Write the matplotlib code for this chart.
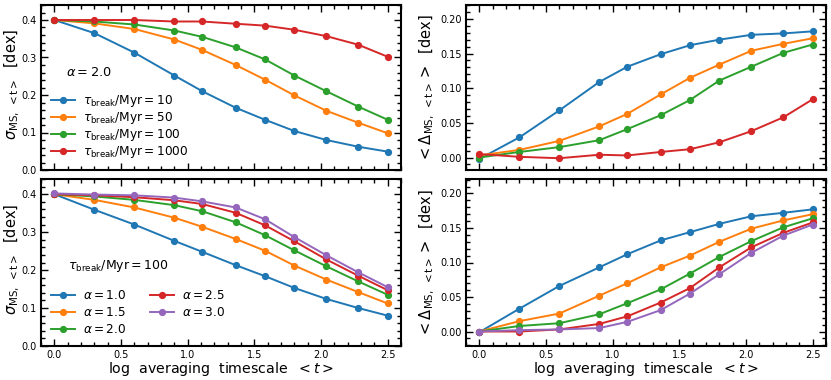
import numpy as np
import matplotlib
matplotlib.use('Agg')
import matplotlib.pyplot as plt
from matplotlib.ticker import MultipleLocator

# log averaging timescale grid
log_t = [0.0, 0.30, 0.60, 0.90, 1.11, 1.36, 1.58, 1.80, 2.04, 2.28, 2.50]

# top row: alpha = 2.0, different tau_break
tau_labels = ['10', '50', '100', '1000']
sigma_tau = [
    [0.400, 0.365, 0.313, 0.252, 0.210, 0.166, 0.134, 0.104, 0.080, 0.062, 0.049],
    [0.400, 0.391, 0.376, 0.348, 0.320, 0.280, 0.241, 0.199, 0.158, 0.126, 0.098],
    [0.400, 0.396, 0.388, 0.372, 0.355, 0.327, 0.295, 0.252, 0.210, 0.169, 0.134],
    [0.400, 0.400, 0.400, 0.396, 0.396, 0.390, 0.385, 0.374, 0.357, 0.334, 0.302],
]
delta_tau = [
    [-0.002, 0.029, 0.068, 0.109, 0.131, 0.149, 0.162, 0.170, 0.177, 0.179, 0.182],
    [0.003, 0.011, 0.024, 0.045, 0.063, 0.091, 0.115, 0.134, 0.154, 0.164, 0.172],
    [0.000, 0.008, 0.015, 0.025, 0.041, 0.061, 0.083, 0.111, 0.131, 0.151, 0.163],
    [0.005, 0.001, -0.001, 0.004, 0.003, 0.008, 0.012, 0.022, 0.038, 0.058, 0.084],
]

# bottom row: tau_break = 100 Myr, different alpha
alpha_labels = ['1.0', '1.5', '2.0', '2.5', '3.0']
sigma_alpha = [
    [0.400, 0.359, 0.320, 0.277, 0.248, 0.213, 0.184, 0.153, 0.124, 0.100, 0.080],
    [0.400, 0.385, 0.365, 0.338, 0.314, 0.282, 0.251, 0.212, 0.175, 0.142, 0.112],
    [0.400, 0.394, 0.385, 0.371, 0.355, 0.326, 0.292, 0.252, 0.210, 0.170, 0.135],
    [0.400, 0.397, 0.392, 0.384, 0.374, 0.351, 0.318, 0.276, 0.228, 0.185, 0.147],
    [0.402, 0.399, 0.397, 0.391, 0.381, 0.365, 0.334, 0.287, 0.239, 0.194, 0.155],
]
delta_alpha = [
    [-0.001, 0.033, 0.066, 0.093, 0.112, 0.132, 0.144, 0.156, 0.167, 0.172, 0.177],
    [0.000, 0.015, 0.026, 0.052, 0.070, 0.093, 0.110, 0.130, 0.149, 0.161, 0.170],
    [0.000, 0.008, 0.012, 0.025, 0.041, 0.061, 0.084, 0.108, 0.131, 0.151, 0.164],
    [0.000, 0.000, 0.003, 0.011, 0.022, 0.042, 0.063, 0.093, 0.122, 0.143, 0.158],
    [0.000, 0.002, 0.003, 0.005, 0.014, 0.031, 0.055, 0.083, 0.114, 0.139, 0.155],
]

W, H = 831, 380
fig = plt.figure(figsize=(W / 100, H / 100), dpi=100)

def box(x0, y0, x1, y1):
    return [x0 / W, 1 - y1 / H, (x1 - x0) / W, (y1 - y0) / H]

ax_tl = fig.add_axes(box(41, 5, 401, 170))
ax_tr = fig.add_axes(box(466, 5, 826, 170))
ax_bl = fig.add_axes(box(41, 179, 401, 346))
ax_br = fig.add_axes(box(466, 179, 826, 346))

kw = dict(marker='o', ms=4.2, lw=1.4)

for i, lab in enumerate(tau_labels):
    ax_tl.plot(log_t, sigma_tau[i], label=r'$\tau_{\rm break}/{\rm Myr}=%s$' % lab, **kw)
    ax_tr.plot(log_t, delta_tau[i], **kw)

for i, lab in enumerate(alpha_labels):
    ax_bl.plot(log_t, sigma_alpha[i], label=r'$\alpha=%s$' % lab, **kw)
    ax_br.plot(log_t, delta_alpha[i], **kw)

sig_label = r'$\sigma_{\rm MS,\ <t>}$  [dex]'
del_label = r'$<\Delta_{\rm MS,\ <t>}>$  [dex]'

for ax in [ax_tl, ax_tr, ax_bl, ax_br]:
    ax.set_xlim(-0.1, 2.6)
    ax.xaxis.set_major_locator(MultipleLocator(0.5))
    ax.xaxis.set_minor_locator(MultipleLocator(0.1))
    ax.tick_params(which='both', direction='in', top=True, right=True, labelsize=7, width=1.0)
    ax.tick_params(which='major', length=5, pad=3)
    ax.tick_params(which='minor', length=3)
    for s in ax.spines.values():
        s.set_linewidth(1.5)

for ax in [ax_tl, ax_bl]:
    ax.set_ylim(0, 0.44)
    ax.yaxis.set_major_locator(MultipleLocator(0.1))
    ax.yaxis.set_minor_locator(MultipleLocator(0.02))
    ax.set_ylabel(sig_label, fontsize=10.5)
    ax.yaxis.set_label_coords(-0.052, 0.52)

for ax, lims in [(ax_tr, (-0.018, 0.22)), (ax_br, (-0.021, 0.221))]:
    ax.set_ylim(*lims)
    ax.yaxis.set_major_locator(MultipleLocator(0.05))
    ax.yaxis.set_minor_locator(MultipleLocator(0.01))
    ax.set_ylabel(del_label, fontsize=10.5)
    ax.yaxis.set_label_coords(-0.08, 0.5)

for ax in [ax_tl, ax_tr]:
    ax.tick_params(labelbottom=False)

for ax in [ax_bl, ax_br]:
    ax.set_xlabel(r'log  averaging  timescale  $<t>$', fontsize=10.2, labelpad=0)

ax_tl.text(0.07, 0.59, r'$\alpha=2.0$', transform=ax_tl.transAxes, fontsize=9.3, va='center')
ax_tl.legend(loc='lower left', frameon=False, fontsize=8.7, handlelength=2.0,
             labelspacing=0.08, borderaxespad=0.4, handletextpad=0.7)

ax_bl.text(0.075, 0.48, r'$\tau_{\rm break}/{\rm Myr}=100$', transform=ax_bl.transAxes,
           fontsize=9, va='center')
ax_bl.legend(loc='lower left', frameon=False, fontsize=8.7, ncol=2, handlelength=2.0,
             labelspacing=0.35, columnspacing=1.9, borderaxespad=0.4, handletextpad=0.7)

fig.savefig('out.png', dpi=100)
